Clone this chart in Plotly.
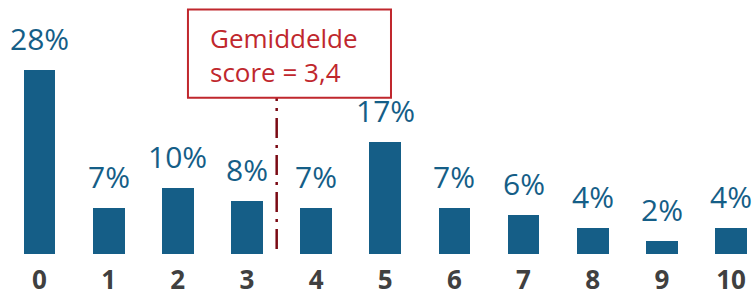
import plotly.graph_objects as go

categories = ["0", "1", "2", "3", "4", "5", "6", "7", "8", "9", "10"]
values = [28, 7, 10, 8, 7, 17, 7, 6, 4, 2, 4]
labels = ["28%", "7%", "10%", "8%", "7%", "17%", "7%", "6%", "4%", "2%", "4%"]
mean_score = 3.43
mean_text = "Gemiddelde<br>score = 3,4"

BLUE = "#155E87"
RED = "#C0272D"
DARKRED = "#7A0A14"

xs = list(range(len(categories)))

fig = go.Figure()
fig.add_trace(go.Bar(x=xs, y=values, width=0.46, marker=dict(color=BLUE, line=dict(width=0)),
                     hoverinfo="skip"))

for x, v, t in zip(xs, values, labels):
    fig.add_annotation(x=x, y=v, text=t, showarrow=False, yanchor="bottom", yshift=9,
                       font=dict(family="Open Sans", size=30, color=BLUE))

# mean line
fig.add_shape(type="line", xref="x", yref="y", x0=mean_score, x1=mean_score, y0=0.75, y1=23.74,
              line=dict(color=DARKRED, width=2.5, dash="20px,7px,3px,7px"))
# box
fig.add_shape(type="rect", xref="x", yref="y", x0=2.147, x1=5.083, y0=23.74, y1=37.14,
              line=dict(color=RED, width=2), fillcolor="white")
fig.add_annotation(x=2.437, y=30.3, xref="x", yref="y", text=mean_text, showarrow=False,
                   xanchor="left", yanchor="middle", align="left",
                   font=dict(family="Open Sans", size=26, color=RED))

fig.update_layout(
    width=753, height=297,
    margin=dict(l=0, r=0, t=0, b=43, pad=0, autoexpand=False),
    plot_bgcolor="white", paper_bgcolor="white",
    showlegend=False,
    bargap=0,
)
fig.update_xaxes(range=[-0.571, 10.318], tickmode="array", tickvals=xs, ticktext=categories,
                 showgrid=False, zeroline=False, showline=False, automargin=False,
                 ticks="outside", ticklen=3, tickcolor="rgba(0,0,0,0)",
                 tickfont=dict(family="Open Sans", size=26, color="#404040", weight="bold"))
fig.update_yaxes(range=[0, 38.6], visible=False, showgrid=False, zeroline=False, automargin=False)

fig.write_html("out.html", config={"displayModeBar": False},
               post_script="document.body.style.margin='0';document.body.style.overflow='hidden';")
